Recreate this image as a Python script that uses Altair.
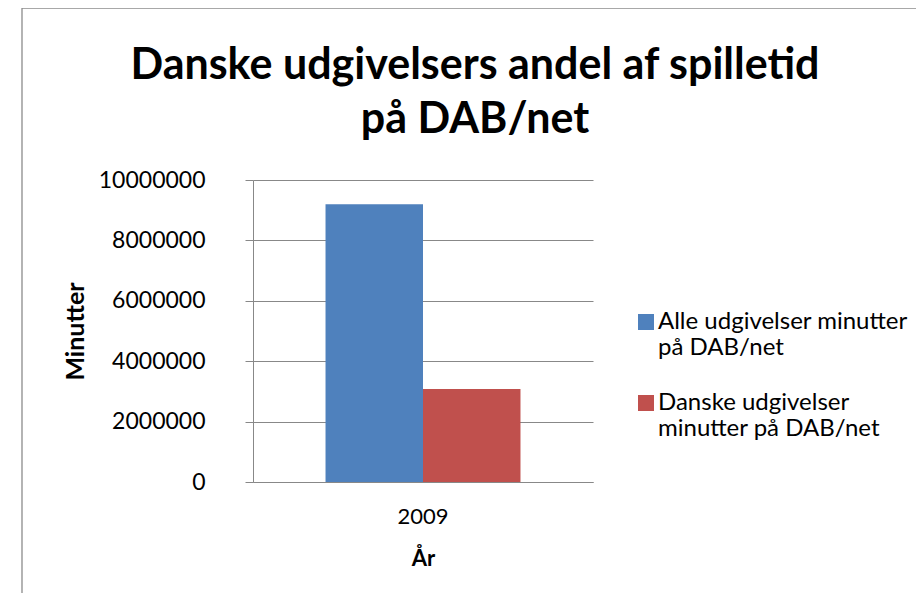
import altair as alt
import pandas as pd

years = ["2009"]
series = ["Alle udgivelser minutter på DAB/net", "Danske udgivelser minutter på DAB/net"]
series_lines = [["Alle udgivelser minutter", "på DAB/net"], ["Danske udgivelser", "minutter på DAB/net"]]
values = [9200000, 3080000]
colors = ["#4F81BD", "#C0504D"]
y_ticks = [0, 2000000, 4000000, 6000000, 8000000, 10000000]
title_lines = ["Danske udgivelsers andel af spilletid", "på DAB/net"]

df = pd.DataFrame({"År": years * len(series), "Serie": series, "Minutter": values})
frame_df = pd.DataFrame({"k": [1]})

FONT = "Lato"

label_expr = " : ".join(
    [f"datum.label == '{s}' ? {l!r}" for s, l in zip(series, series_lines)]
) + " : datum.label"

bars = alt.Chart(df).mark_bar().encode(
    x=alt.X("År:N", scale=alt.Scale(paddingInner=0, paddingOuter=0.372),
            axis=alt.Axis(labelAngle=0, ticks=False, domainColor="#888888", labelFontSize=22,
                          labelPadding=24, titleFontSize=22, titleFontWeight="bold",
                          titleY=66, titlePadding=0)),
    xOffset=alt.XOffset("Serie:N", sort=series, scale=alt.Scale(paddingInner=0, paddingOuter=0)),
    y=alt.Y("Minutter:Q", scale=alt.Scale(domain=[0, 10000000], nice=False),
            axis=alt.Axis(values=y_ticks, format="d", grid=True, gridColor="#888888",
                          domainColor="#888888", tickColor="#888888", tickSize=8,
                          labelFontSize=23, labelPadding=40, titleFontSize=25,
                          titleFontWeight="bold", titleX=-178, titleY=151, titleAngle=270,
                          titleAlign="center", titleBaseline="middle")),
    color=alt.Color("Serie:N", sort=series, scale=alt.Scale(domain=series, range=colors),
                    legend=alt.Legend(title=None, orient="none", legendX=381, legendY=130,
                                      symbolType="square", symbolSize=256, symbolStrokeWidth=0,
                                      labelFontSize=24, labelLimit=400, labelOffset=0,
                                      rowPadding=31, labelExpr=label_expr)),
)

frame = alt.Chart(frame_df).mark_rect(fill=None, stroke="#8c8c8c", strokeWidth=1.3).encode(
    x=alt.value(-231), y=alt.value(-172), x2=alt.value(720), y2=alt.value(620)
)

chart = alt.layer(frame, bars).properties(
    width=340, height=302,
    title=alt.TitleParams(text=title_lines, fontSize=43, fontWeight="bold", font=FONT,
                          anchor="middle", frame="group", dx=52, dy=135, lineHeight=54, offset=0),
    autosize=alt.AutoSizeParams(type="none"),
    padding={"left": 245, "top": 172, "right": 323, "bottom": 111},
).configure(font=FONT).configure_view(stroke=None).configure_axis(
    labelFont=FONT, titleFont=FONT, labelColor="#000000", titleColor="#000000"
).configure_legend(labelFont=FONT, labelColor="#000000")

chart.save("out.html", embed_options={"renderer": "svg", "actions": False})
